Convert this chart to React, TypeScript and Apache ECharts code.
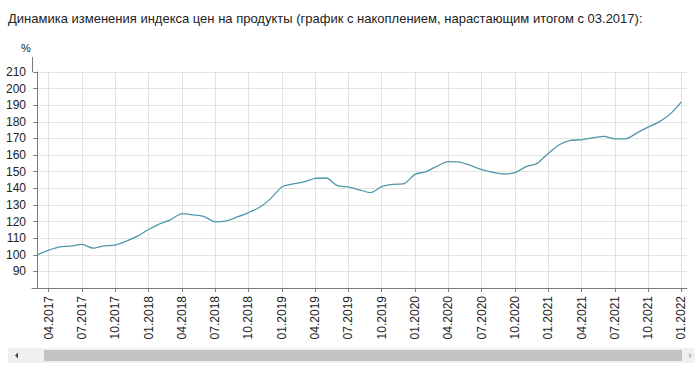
import React, { useEffect, useRef } from "react";
import * as echarts from "echarts";

const months: string[] = [
  "03.2017", "04.2017", "05.2017", "06.2017", "07.2017", "08.2017", "09.2017", "10.2017", "11.2017", "12.2017",
  "01.2018", "02.2018", "03.2018", "04.2018", "05.2018", "06.2018", "07.2018", "08.2018", "09.2018", "10.2018", "11.2018", "12.2018",
  "01.2019", "02.2019", "03.2019", "04.2019", "05.2019", "06.2019", "07.2019", "08.2019", "09.2019", "10.2019", "11.2019", "12.2019",
  "01.2020", "02.2020", "03.2020", "04.2020", "05.2020", "06.2020", "07.2020", "08.2020", "09.2020", "10.2020", "11.2020", "12.2020",
  "01.2021", "02.2021", "03.2021", "04.2021", "05.2021", "06.2021", "07.2021", "08.2021", "09.2021", "10.2021", "11.2021", "12.2021",
  "01.2022",
];

const priceIndex: number[] = [
  100, 102.8, 104.8, 105.2, 106.2, 104, 105.4, 105.8, 108.2, 111.2,
  115.2, 118.6, 121.2, 124.8, 124, 123, 119.8, 120.4, 122.8, 125.4, 128.6, 133.8,
  140.8, 142.6, 143.8, 146, 146.2, 141.6, 140.8, 139, 137.4, 141, 142.4, 142.8,
  148.4, 150, 153.4, 156, 155.8, 153.8, 151.2, 149.6, 148.6, 149.4, 153, 155,
  161, 166.2, 168.8, 169.2, 170.4, 171.2, 169.8, 169.8, 173.4, 176.8, 180, 184.8,
  192,
];

// labelled months: every third month starting at 04.2017
const labelledMonths: string[] = [
  "04.2017", "07.2017", "10.2017", "01.2018", "04.2018", "07.2018", "10.2018",
  "01.2019", "04.2019", "07.2019", "10.2019", "01.2020", "04.2020", "07.2020",
  "10.2020", "01.2021", "04.2021", "07.2021", "10.2021", "01.2022",
];

const titleText =
  "Динамика изменения индекса цен на продукты (график с накоплением, нарастающим итогом с 03.2017):";

export default function App() {
  const ref = useRef<HTMLDivElement>(null);

  useEffect(() => {
    if (!ref.current) return;
    const chart = echarts.init(ref.current, null, { renderer: "svg" });
    const tickIdx = labelledMonths.map((m) => months.indexOf(m));
    const font = "Arial, 'Liberation Sans', sans-serif";

    chart.setOption({
      animation: false,
      backgroundColor: "#ffffff",
      textStyle: { fontFamily: font },
      grid: { left: 32, right: 13, top: 72, bottom: 87, containLabel: false },
      xAxis: {
        type: "value",
        min: -0.5,
        max: months.length - 0.5,
        axisLine: { show: true, lineStyle: { color: "#7a7a7a", width: 1 } },
        axisTick: { show: true, customValues: tickIdx, length: 4, lineStyle: { color: "#7a7a7a" } },
        axisLabel: {
          customValues: tickIdx,
          rotate: 90,
          margin: 8,
          color: "#222",
          fontSize: 12,
          fontFamily: font,
          formatter: (v: number) => months[Math.round(v)] ?? "",
        },
        splitLine: { show: true, lineStyle: { color: "#e3e3e3", width: 1 } },
      },
      yAxis: {
        type: "value",
        min: 80,
        max: 210,
        interval: 10,
        axisLine: { show: true, lineStyle: { color: "#7a7a7a", width: 1 } },
        axisTick: { show: true, length: 4, lineStyle: { color: "#7a7a7a" } },
        axisLabel: {
          color: "#222",
          fontSize: 12,
          margin: 6,
          fontFamily: font,
          formatter: (v: number) => (v === 80 ? "" : String(v)),
        },
        splitLine: { show: true, lineStyle: { color: "#e3e3e3", width: 1 } },
      },
      series: [
        {
          type: "line",
          data: priceIndex.map((v, i) => [i, v]),
          showSymbol: false,
          smooth: 0.25,
          lineStyle: { color: "#4f98ab", width: 1.3 },
        },
      ],
      graphic: [
        {
          type: "text",
          left: 8,
          top: 12,
          style: { text: titleText, fill: "#222", font: `13px ${font}` },
        },
        {
          type: "text",
          left: 21,
          top: 42,
          style: { text: "%", fill: "#222", font: `11px ${font}` },
        },
        {
          type: "line",
          shape: { x1: 32.5, y1: 57, x2: 32.5, y2: 72 },
          style: { stroke: "#7a7a7a", lineWidth: 1 },
        },
        {
          type: "rect",
          shape: { x: 8, y: 348, width: 687, height: 15 },
          style: { fill: "#f0f0f0" },
        },
        {
          type: "rect",
          shape: { x: 44, y: 350, width: 638, height: 11 },
          style: { fill: "#c2c2c2" },
        },
        {
          type: "polygon",
          shape: { points: [[15, 355.5], [18, 352.5], [18, 358.5]] },
          style: { fill: "#444" },
        },
        {
          type: "polygon",
          shape: { points: [[692, 355.5], [689, 352.5], [689, 358.5]] },
          style: { fill: "#bdbdbd" },
        },
      ],
    });

    return () => chart.dispose();
  }, []);

  return (
    <div
      ref={ref}
      style={{ position: "fixed", left: 0, top: 0, width: 700, height: 375, background: "#fff" }}
    />
  );
}
